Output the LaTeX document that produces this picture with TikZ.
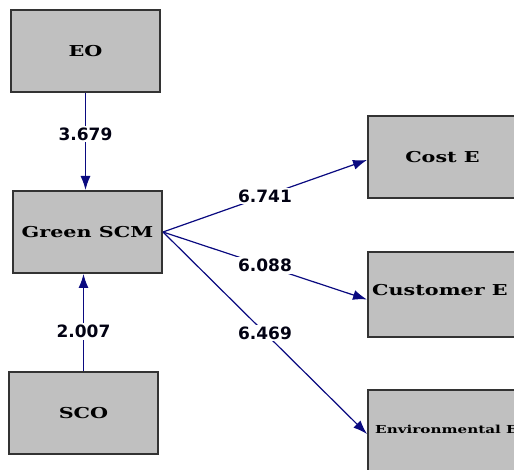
\documentclass[tikz,border=0pt]{standalone}
\usepackage{fontspec}
\usepackage{tikz}
\usetikzlibrary{arrows.meta}

\newfontfamily\boxfont{DejaVu Serif}[FakeStretch=1.38]
\newfontfamily\numfont{DejaVu Sans}

\definecolor{boxgray}{RGB}{192,192,192}
\definecolor{boxline}{RGB}{51,51,51}
\definecolor{pathblue}{RGB}{10,10,128}

\tikzset{
	varbox/.style={draw=boxline, line width=2pt, fill=boxgray, minimum width=149, minimum height=82, inner sep=0pt, font=\boxfont\bfseries\fontsize{15}{17}\selectfont},
	path/.style={pathblue, line width=1.2pt, -{Latex[length=14pt,width=10pt]}},
	coef/.style={fill=white, inner sep=2pt, text=black!85!pathblue, font=\numfont\bfseries\fontsize{17}{19}\selectfont}
}

\begin{document}
\begin{tikzpicture}[x=1pt, y=-1pt]
	\useasboundingbox (0,0) rectangle (514,470);
	\clip (0,0) rectangle (514,470);

	%Left column
	\node[varbox] (eo) at (85.5,51.5) {EO};
	\node[varbox] (gscm) at (87.5,232) {Green SCM};
	\node[varbox] (sco) at (83.5,413) {SCO};

	%Right column (cut at the edge)
	\node[varbox] (coste) at (442.5,157) {Cost E};
	\node[varbox, minimum height=85] (custe) at (442.5,294.5) {};
	\node[varbox] (enve) at (442.5,431) {};
	\node[anchor=west, inner sep=0pt, font=\boxfont\bfseries\fontsize{15}{17}\selectfont] (custetxt) at ([xshift=5pt, yshift=4pt]custe.west) {Customer E};
	\node[anchor=west, inner sep=0pt, font=\boxfont\bfseries\fontsize{11}{13}\selectfont] (envetxt) at ([xshift=8pt, yshift=2pt]enve.west) {Environmental E};

	%Paths into Green SCM
	\draw[path] (eo.south) -- node[coef, pos=0.42] {3.679} (eo.south |- gscm.north);
	\draw[path] (sco.north) -- node[coef, pos=0.41] {2.007} (sco.north |- gscm.south);

	%Paths out of Green SCM
	\draw[path] (gscm.east) -- node[coef] {6.741} ([yshift=-3pt]coste.west);
	\draw[path] (gscm.east) -- node[coef] {6.088} ([yshift=-5pt]custe.west);
	\draw[path] (gscm.east) -- node[coef] {6.469} ([yshift=-3pt]enve.west);

\end{tikzpicture}
\end{document}
